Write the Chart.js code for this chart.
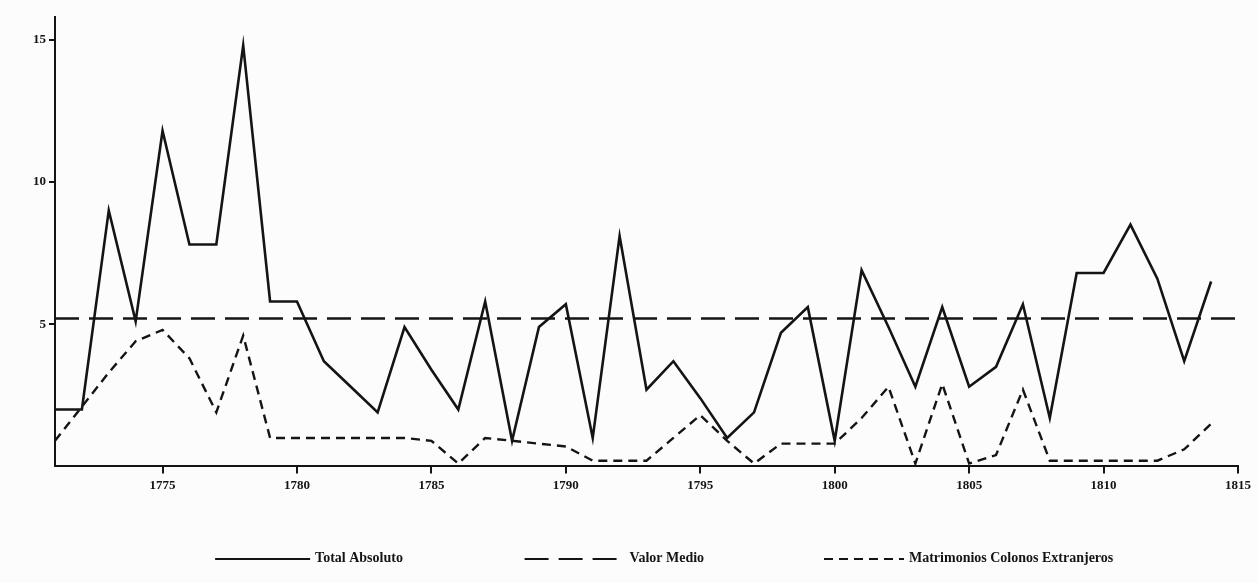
<!DOCTYPE html>
<html>
<head>
<meta charset="utf-8">
<script src="https://cdn.jsdelivr.net/npm/chart.js@4.4.0/dist/chart.umd.min.js"></script>
<style>
  html, body { margin: 0; background: #fcfcfc; }
  #wrap { width: 1258px; height: 583px; }
</style>
</head>
<body>
<div id="wrap"><canvas id="chart"></canvas></div>
<script>
const years = [1771, 1772, 1773, 1774, 1775, 1776, 1777, 1778, 1779, 1780,
               1781, 1782, 1783, 1784, 1785, 1786, 1787, 1788, 1789, 1790,
               1791, 1792, 1793, 1794, 1795, 1796, 1797, 1798, 1799, 1800,
               1801, 1802, 1803, 1804, 1805, 1806, 1807, 1808, 1809, 1810,
               1811, 1812, 1813, 1814];
const totalAbsoluto = [2.0, 2.0, 9.0, 5.1, 11.8, 7.8, 7.8, 14.8, 5.8, 5.8,
                       3.7, 2.8, 1.9, 4.9, 3.4, 2.0, 5.8, 0.9, 4.9, 5.7,
                       1.0, 8.1, 2.7, 3.7, 2.4, 1.0, 1.9, 4.7, 5.6, 0.9,
                       6.9, 4.9, 2.8, 5.6, 2.8, 3.5, 5.7, 1.7, 6.8, 6.8,
                       8.5, 6.6, 3.7, 6.5];
const colonosExtranjeros = [0.9, 2.1, 3.3, 4.4, 4.8, 3.8, 1.9, 4.6, 1.0, 1.0,
                            1.0, 1.0, 1.0, 1.0, 0.9, 0.1, 1.0, 0.9, 0.8, 0.7,
                            0.2, 0.2, 0.2, 1.0, 1.8, 0.9, 0.1, 0.8, 0.8, 0.8,
                            1.7, 2.8, 0.1, 2.9, 0.1, 0.4, 2.7, 0.2, 0.2, 0.2,
                            0.2, 0.2, 0.6, 1.5];
const medioYears = [1771, 1815];
const valorMedio = [5.2, 5.2];

const xTicks = [1775, 1780, 1785, 1790, 1795, 1800, 1805, 1810, 1815];
const yTicks = [5, 10, 15];
const labels = ['Total Absoluto', 'Valor Medio', 'Matrimonios Colonos Extranjeros'];

const ink = '#141414';
const tickFont = { family: 'Liberation Serif', size: 13, weight: 'bold' };

const toPoints = (xs, ys) => xs.map((x, i) => ({ x: x, y: ys[i] }));

// legend drawn under the axis: line sample then text, spread across the width
const bottomLegend = {
  id: 'bottomLegend',
  afterDraw(chart) {
    const ctx = chart.ctx;
    const y = chart.height - 24;
    const starts = [0.171, 0.417, 0.655];
    const sample = [95, 100, 80];
    ctx.save();
    chart.data.datasets.forEach((ds, i) => {
      const x0 = chart.width * starts[i];
      ctx.beginPath();
      ctx.setLineDash(ds.borderDash || []);
      ctx.lineWidth = 2;
      ctx.strokeStyle = ink;
      ctx.moveTo(x0, y);
      ctx.lineTo(x0 + sample[i], y);
      ctx.stroke();
      ctx.setLineDash([]);
      ctx.fillStyle = ink;
      ctx.font = 'bold 14px "Liberation Serif"';
      ctx.textBaseline = 'middle';
      ctx.fillText(ds.label, x0 + sample[i] + 5, y - 1);
    });
    ctx.restore();
  }
};

new Chart(document.getElementById('chart'), {
  type: 'line',
  data: {
    datasets: [
      {
        label: labels[0],
        data: toPoints(years, totalAbsoluto),
        borderColor: ink,
        borderWidth: 2.6,
        pointRadius: 0,
        tension: 0
      },
      {
        label: labels[1],
        data: toPoints(medioYears, valorMedio),
        borderColor: ink,
        borderWidth: 2.4,
        borderDash: [24, 10],
        pointRadius: 0
      },
      {
        label: labels[2],
        data: toPoints(years, colonosExtranjeros),
        borderColor: ink,
        borderWidth: 2.4,
        borderDash: [9, 6],
        pointRadius: 0,
        tension: 0
      }
    ]
  },
  options: {
    responsive: true,
    maintainAspectRatio: false,
    animation: false,
    layout: { padding: { left: 30, right: 20, top: 17, bottom: 86 } },
    plugins: {
      legend: { display: false },
      tooltip: { enabled: false }
    },
    scales: {
      x: {
        type: 'linear',
        min: 1771,
        max: 1815,
        afterBuildTicks: (axis) => { axis.ticks = xTicks.map(v => ({ value: v })); },
        grid: { drawOnChartArea: false, drawTicks: true, tickLength: 7, color: ink, lineWidth: 2 },
        border: { display: true, color: ink, width: 2 },
        ticks: {
          color: ink,
          font: tickFont,
          padding: 4,
          autoSkip: false,
          maxRotation: 0,
          callback: (v) => String(v)
        }
      },
      y: {
        min: 0,
        max: 15.8,
        afterBuildTicks: (axis) => { axis.ticks = yTicks.map(v => ({ value: v })); },
        grid: { drawOnChartArea: false, drawTicks: true, tickLength: 6, color: ink, lineWidth: 2 },
        border: { display: true, color: ink, width: 2 },
        ticks: {
          color: ink,
          font: tickFont,
          padding: 3,
          callback: (v) => String(v)
        }
      }
    }
  },
  plugins: [bottomLegend]
});
</script>
</body>
</html>
